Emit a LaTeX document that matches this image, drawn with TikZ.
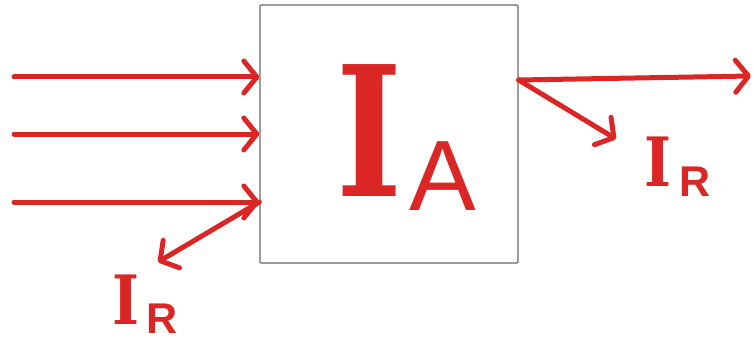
\documentclass[tikz,border=0pt]{standalone}
\usepackage{fontspec}
\newfontfamily\slabfont{DejaVu Serif}[BoldFont={DejaVu Serif Bold}]
\newfontfamily\labelfont{Liberation Sans}
\definecolor{wirered}{RGB}{219,38,38}
\definecolor{boxgray}{RGB}{105,105,105}
\usetikzlibrary{arrows.meta,positioning}

\begin{document}
\begin{tikzpicture}[x=1pt,y=-1pt,
    flow/.style={draw=wirered, line width=5pt, line cap=round,
                 -{Straight Barb[length=13pt,width=32pt,line cap=round,line join=round]}},
    letter/.style={text=wirered, inner sep=0pt}]
  \useasboundingbox (0,0) rectangle (754,342);

  % the block
  \node[draw=boxgray, line width=1.3pt, rounded corners=1pt, minimum width=258pt,
        minimum height=258pt, inner sep=0pt] (blk) at (389,134) {};
  \node[letter, xscale=0.78, font={\slabfont\bfseries\fontsize{181}{181}\selectfont}] (bigI) at (370,131) {I};
  \node[letter, font={\labelfont\fontsize{100}{100}\selectfont}] (subA) at (443,176) {A};

  % incoming currents
  \coordinate (in1) at (14,77);
  \coordinate (in2) at (14,134);
  \coordinate (in3) at (14,202);
  \foreach \k in {1,2,3}
    \draw[flow] (in\k) -- (blk.west |- in\k);

  % outgoing and leaking currents
  \coordinate (tap) at (blk.east |- 0,80);
  \coordinate (out) at (751,76);
  \coordinate (leakR) at (616,139);
  \coordinate (leakL) at (158,262);
  \draw[flow] (tap) -- (out);
  \draw[flow] (tap) -- (leakR);
  \draw[flow] (blk.west |- in3) -- (leakL);

  % labels
  \node[letter, xscale=0.85, font={\slabfont\bfseries\fontsize{68}{68}\selectfont}] (irI) at (658.5,162) {I};
  \node[letter, font={\labelfont\bfseries\fontsize{43}{43}\selectfont}, anchor=base west]
       (irR) at ([xshift=7pt,yshift=-10pt]irI.base east) {R};
  \node[letter, xscale=0.85, font={\slabfont\bfseries\fontsize{68}{68}\selectfont}] (ilI) at (126,300) {I};
  \node[letter, font={\labelfont\bfseries\fontsize{43}{43}\selectfont}, anchor=base west]
       (ilR) at ([xshift=7pt,yshift=-9pt]ilI.base east) {R};
\end{tikzpicture}
\end{document}
